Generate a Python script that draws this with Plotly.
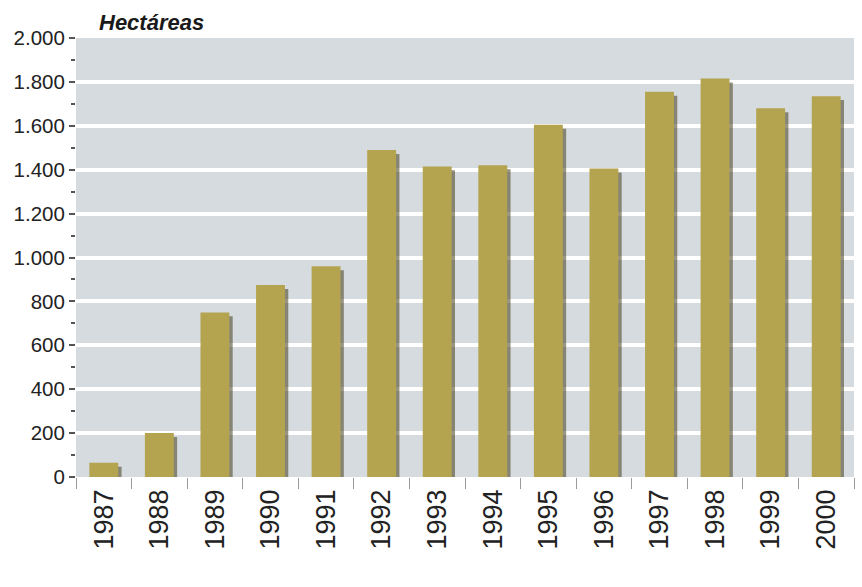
import plotly.graph_objects as go

years = ["1987", "1988", "1989", "1990", "1991", "1992", "1993",
         "1994", "1995", "1996", "1997", "1998", "1999", "2000"]
hectares = [65, 200, 750, 875, 960, 1490, 1415, 1420, 1605, 1405,
            1755, 1815, 1680, 1735]
y_ticks = [0, 200, 400, 600, 800, 1000, 1200, 1400, 1600, 1800, 2000]
y_tick_labels = ["0", "200", "400", "600", "800", "1.000", "1.200",
                 "1.400", "1.600", "1.800", "2.000"]

BAR_W = 0.52
SHADOW_DX = 0.06
SHADOW_DY = 18

fig = go.Figure()
# soft shadow (right/bottom), derived from the same values
fig.add_trace(go.Bar(
    x=years, y=hectares, base=[-SHADOW_DY] * len(hectares),
    width=BAR_W, offset=-BAR_W / 2 + SHADOW_DX,
    marker=dict(color="rgba(70,62,30,0.55)", line=dict(width=0)),
    hoverinfo="skip", showlegend=False,
))
fig.add_trace(go.Bar(
    x=years, y=hectares, width=BAR_W, offset=-BAR_W / 2,
    marker=dict(color="#b4a44f", line=dict(width=0)),
    showlegend=False,
))

fig.update_layout(
    width=862, height=587,
    margin=dict(l=76, r=8, t=38, b=110),
    paper_bgcolor="white",
    plot_bgcolor="#d6dbdf",
    barmode="overlay",
    font=dict(family="Liberation Sans, Arial, sans-serif", color="#222"),
    annotations=[dict(
        text="<b><i>Hectáreas</i></b>", xref="paper", yref="paper",
        x=0.027, y=1.0, xanchor="left", yanchor="bottom", yshift=1,
        showarrow=False, font=dict(size=22, color="#1a1a1a"),
    )],
)
fig.update_xaxes(
    type="category", showgrid=False, zeroline=False, showline=False,
    tickangle=-90, tickfont=dict(size=27, color="#222"),
    ticks="outside", tickson="boundaries", ticklen=11,
    tickcolor="#9a9a9a", tickwidth=1, ticklabelstandoff=6,
)
fig.update_yaxes(
    range=[0, 2000], tickvals=y_ticks, ticktext=y_tick_labels,
    showgrid=True, gridcolor="white", gridwidth=3.5, zeroline=False,
    showline=False, tickfont=dict(size=20.5, color="#222"),
    ticks="outside", ticklen=6, tickcolor="#555", tickwidth=1.5,
    minor=dict(dtick=100, ticks="outside", ticklen=4, tickcolor="#555",
               showgrid=False),
)

fig.write_html("out.html")
